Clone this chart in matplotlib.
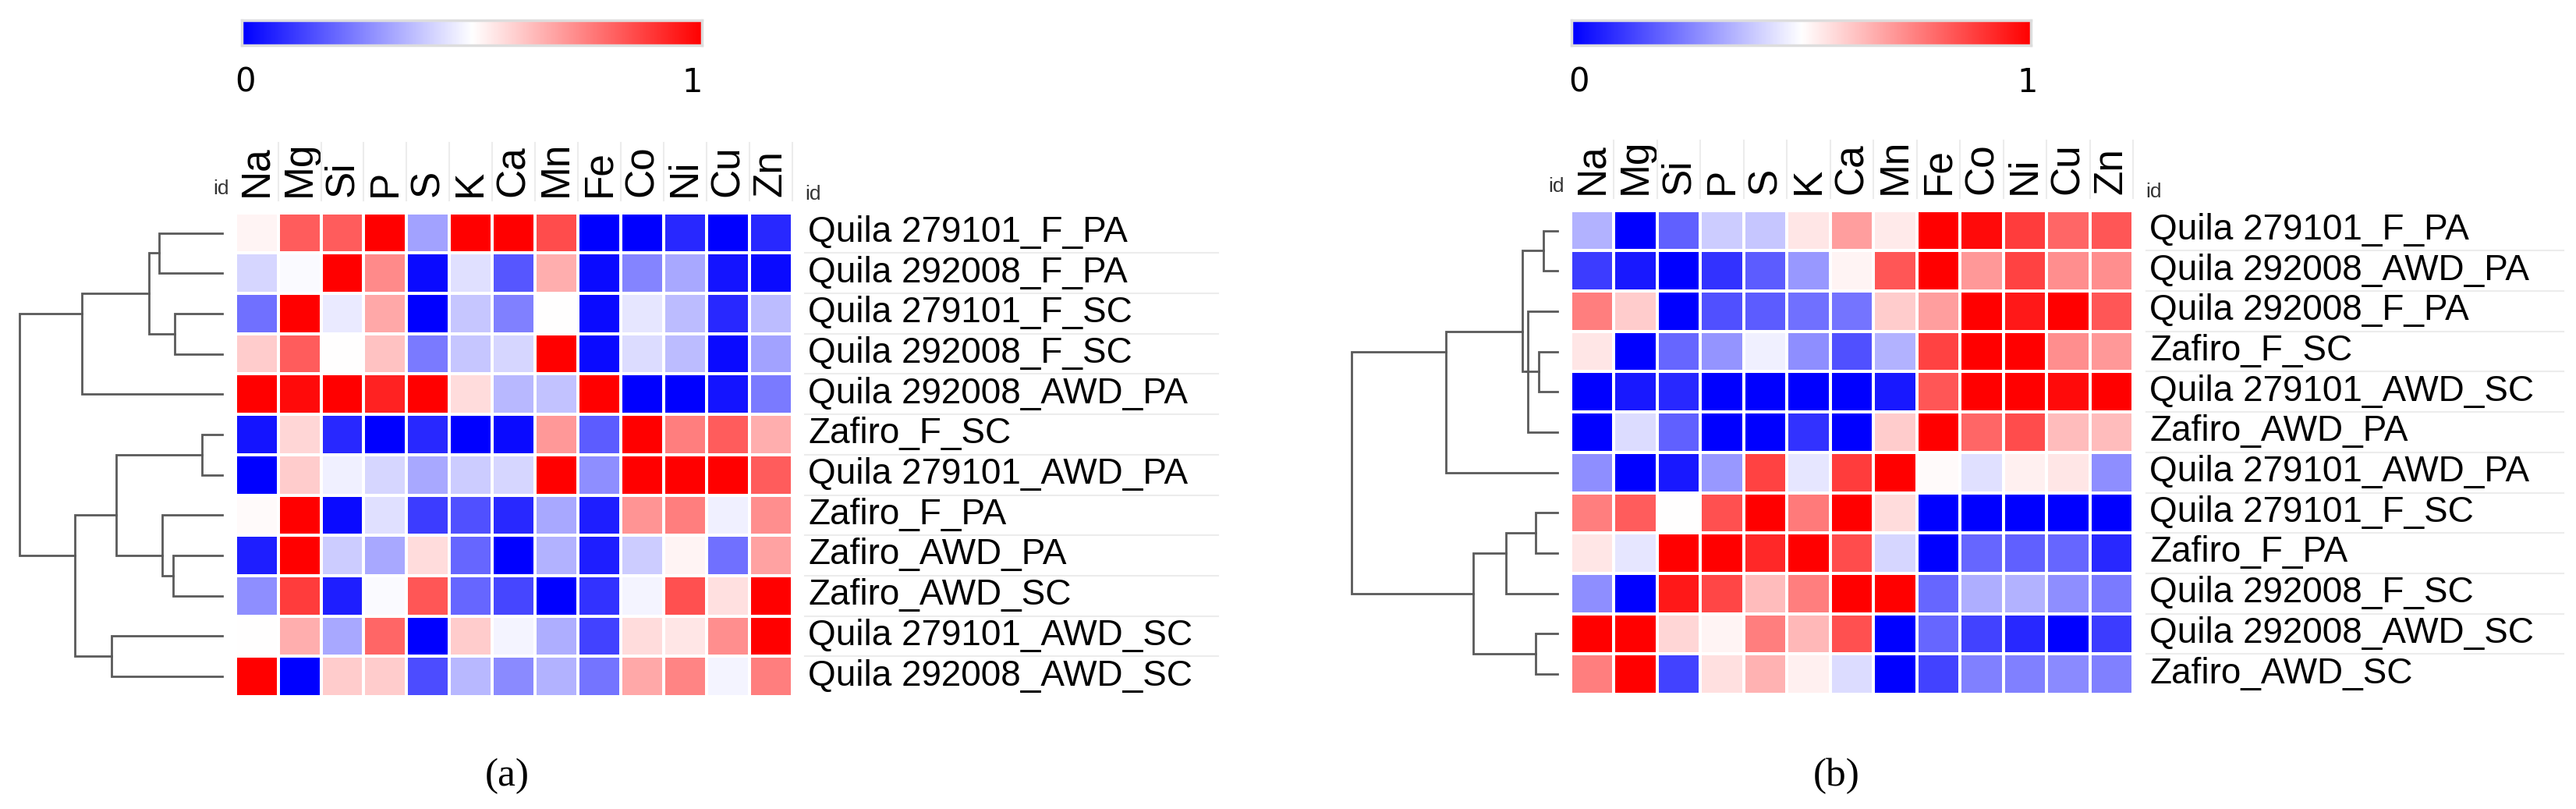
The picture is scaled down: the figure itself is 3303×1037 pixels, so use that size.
import numpy as np
import matplotlib
matplotlib.use("Agg")
import matplotlib.pyplot as plt

# ---------------- data ----------------
elements = ["Na", "Mg", "Si", "P", "S", "K", "Ca", "Mn", "Fe", "Co", "Ni", "Cu", "Zn"]

rows_a = ["Quila 279101_F_PA", "Quila 292008_F_PA", "Quila 279101_F_SC",
          "Quila 292008_F_SC", "Quila 292008_AWD_PA", "Zafiro_F_SC",
          "Quila 279101_AWD_PA", "Zafiro_F_PA", "Zafiro_AWD_PA",
          "Zafiro_AWD_SC", "Quila 279101_AWD_SC", "Quila 292008_AWD_SC"]

vals_a = [
    [0.52, 0.82, 0.82, 1.00, 0.32, 1.00, 1.00, 0.85, 0.00, 0.00, 0.08, 0.00, 0.08],
    [0.42, 0.49, 1.00, 0.73, 0.02, 0.44, 0.17, 0.66, 0.02, 0.26, 0.33, 0.04, 0.02],
    [0.22, 1.00, 0.46, 0.67, 0.00, 0.39, 0.25, 0.50, 0.02, 0.45, 0.37, 0.08, 0.37],
    [0.60, 0.82, 0.50, 0.62, 0.24, 0.39, 0.42, 1.00, 0.02, 0.43, 0.37, 0.02, 0.32],
    [1.00, 0.98, 1.00, 0.93, 1.00, 0.57, 0.36, 0.38, 1.00, 0.00, 0.00, 0.04, 0.24],
    [0.04, 0.58, 0.08, 0.00, 0.08, 0.00, 0.02, 0.70, 0.18, 1.00, 0.75, 0.82, 0.66],
    [0.00, 0.60, 0.47, 0.42, 0.33, 0.40, 0.42, 1.00, 0.28, 1.00, 1.00, 1.00, 0.82],
    [0.51, 1.00, 0.02, 0.44, 0.12, 0.16, 0.08, 0.33, 0.06, 0.71, 0.75, 0.47, 0.72],
    [0.06, 1.00, 0.40, 0.33, 0.57, 0.20, 0.00, 0.35, 0.06, 0.40, 0.52, 0.22, 0.68],
    [0.28, 0.88, 0.06, 0.49, 0.83, 0.20, 0.14, 0.00, 0.10, 0.48, 0.84, 0.56, 1.00],
    [0.50, 0.66, 0.33, 0.80, 0.00, 0.60, 0.48, 0.34, 0.13, 0.57, 0.55, 0.72, 1.00],
    [1.00, 0.00, 0.60, 0.60, 0.15, 0.36, 0.27, 0.35, 0.23, 0.67, 0.74, 0.48, 0.75],
]

rows_b = ["Quila 279101_F_PA", "Quila 292008_AWD_PA", "Quila 292008_F_PA",
          "Zafiro_F_SC", "Quila 279101_AWD_SC", "Zafiro_AWD_PA",
          "Quila 279101_AWD_PA", "Quila 279101_F_SC", "Zafiro_F_PA",
          "Quila 292008_F_SC", "Quila 292008_AWD_SC", "Zafiro_AWD_SC"]

vals_b = [
    [0.35, 0.00, 0.19, 0.40, 0.39, 0.55, 0.69, 0.54, 1.00, 0.98, 0.88, 0.80, 0.83],
    [0.12, 0.05, 0.00, 0.10, 0.18, 0.30, 0.52, 0.83, 1.00, 0.70, 0.87, 0.72, 0.72],
    [0.75, 0.60, 0.00, 0.16, 0.18, 0.22, 0.23, 0.60, 0.69, 1.00, 0.95, 1.00, 0.83],
    [0.55, 0.00, 0.20, 0.29, 0.47, 0.28, 0.16, 0.35, 0.87, 1.00, 1.00, 0.72, 0.70],
    [0.00, 0.05, 0.08, 0.00, 0.00, 0.00, 0.00, 0.05, 0.83, 1.00, 1.00, 0.98, 1.00],
    [0.00, 0.43, 0.19, 0.00, 0.00, 0.10, 0.00, 0.60, 1.00, 0.80, 0.85, 0.63, 0.63],
    [0.28, 0.00, 0.05, 0.30, 0.87, 0.45, 0.88, 1.00, 0.51, 0.44, 0.53, 0.55, 0.28],
    [0.75, 0.82, 0.50, 0.84, 1.00, 0.76, 1.00, 0.57, 0.00, 0.00, 0.00, 0.00, 0.00],
    [0.55, 0.45, 1.00, 1.00, 0.92, 1.00, 0.85, 0.42, 0.00, 0.20, 0.19, 0.20, 0.08],
    [0.28, 0.00, 0.95, 0.86, 0.63, 0.75, 1.00, 1.00, 0.20, 0.34, 0.35, 0.28, 0.24],
    [1.00, 1.00, 0.58, 0.52, 0.75, 0.64, 0.84, 0.00, 0.20, 0.13, 0.08, 0.00, 0.12],
    [0.75, 1.00, 0.13, 0.56, 0.65, 0.53, 0.43, 0.00, 0.13, 0.25, 0.25, 0.27, 0.25],
]

# dendrogram merges: (child, child, height); leaves 0..11 in display order, new nodes 12..
link_a = [(0, 1, 0.311), (2, 3, 0.234), (12, 13, 0.359), (14, 4, 0.691),
          (5, 6, 0.098), (8, 9, 0.243), (7, 17, 0.297), (16, 18, 0.523),
          (10, 11, 0.545), (19, 20, 0.726), (15, 21, 1.0)]
link_b = [(0, 1, 0.068), (3, 4, 0.089), (2, 5, 0.142), (14, 13, 0.155),
          (12, 15, 0.171), (16, 6, 0.541), (7, 8, 0.106), (18, 9, 0.249),
          (10, 11, 0.106), (19, 20, 0.408), (17, 21, 1.0)]

cbar_ticks = ["0", "1"]
captions = ["(a)", "(b)"]

# ---------------- layout ----------------
W, H = 3303, 1037
fig = plt.figure(figsize=(W / 100, H / 100), dpi=100)


def rect(x0, y0, x1, y1):
    return [x0 / W, 1 - y1 / H, (x1 - x0) / W, (y1 - y0) / H]


def draw_heat(box, rows, vals):
    ax = fig.add_axes(rect(*box))
    data = np.array(vals)
    nr, nc = data.shape
    ax.pcolormesh(np.arange(nc + 1), np.arange(nr + 1), data, cmap="bwr",
                  vmin=0, vmax=1, edgecolors="white", linewidth=1.6)
    ax.set_xlim(0, nc)
    ax.set_ylim(nr, 0)
    for s in ax.spines.values():
        s.set_visible(False)
    ax.set_xticks(np.arange(nc) + 0.5)
    ax.set_xticklabels(elements, rotation=90, fontsize=37,
                       family=["Liberation Sans Narrow", "Liberation Sans"])
    ax.tick_params(top=True, labeltop=True, bottom=False, labelbottom=False,
                   left=False, labelleft=False, length=0, pad=15)
    ax.set_yticks([])
    for j in range(1, nc + 1):
        ax.plot([j, j], [-0.3, -1.73], color="#ececec", lw=1.5, clip_on=False)
    for i in range(1, nr):
        ax.plot([13.3, 22.95], [i, i], color="#ececec", lw=1.5, clip_on=False)
    for i, r in enumerate(rows):
        ax.text(13.38, i + 0.72, r, fontsize=33, family="Liberation Sans",
                va="baseline", ha="left", color="black")
    ax.text(-0.14, -0.46, "id", fontsize=19, family="Liberation Sans",
            ha="right", va="baseline", color="#333333")
    ax.text(13.3, -0.32, "id", fontsize=19, family="Liberation Sans",
            ha="left", va="baseline", color="#333333")


def draw_dendro(box, links, n):
    ax = fig.add_axes(rect(*box))
    pos = {i: (i + 0.5, 0.0, [i]) for i in range(n)}
    for k, (a, b, h) in enumerate(links):
        ya, hA, la = pos[a]
        yb, hB, lb = pos[b]
        ax.plot([hA, h, h, hB], [ya, ya, yb, yb], color="#5a5a5a", lw=2.0,
                solid_joinstyle="miter", clip_on=False)
        leaves = la + lb
        pos[n + k] = (np.mean([l + 0.5 for l in leaves]), h, leaves)
    ax.set_xlim(1.0, 0.0)
    ax.set_ylim(n, 0)
    ax.axis("off")


def draw_cbar(box, xl0, xl1, ylab):
    ax = fig.add_axes(rect(*box))
    ax.imshow(np.linspace(0, 1, 256)[None, :], aspect="auto", cmap="bwr",
              vmin=0, vmax=1, extent=[0, 1, 0, 1])
    ax.set_xticks([])
    ax.set_yticks([])
    for s in ax.spines.values():
        s.set_color("#dddddd")
        s.set_linewidth(2.5)
    for x, t in zip([xl0, xl1], cbar_ticks):
        fig.text(x / W, 1 - ylab / H, t, fontsize=30, family="DejaVu Sans",
                 ha="center", va="center", color="black")


# panel (a)
draw_cbar((310, 26, 900, 58), 315, 888, 106)
draw_dendro((24.5, 272.7, 285, 893), link_a, len(rows_a))
draw_heat((301.7, 272.7, 1015.5, 893), rows_a, vals_a)
fig.text(650 / W, 1 - 1007 / H, captions[0], fontsize=37, family="Liberation Serif",
         ha="center", va="baseline")

# panel (b)
draw_cbar((2015, 26, 2604, 58), 2024, 2600, 106)
draw_dendro((1733.3, 269.7, 1996.7, 890), link_b, len(rows_b))
draw_heat((2014, 269.7, 2735, 890), rows_b, vals_b)
fig.text(2355 / W, 1 - 1007 / H, captions[1], fontsize=37, family="Liberation Serif",
         ha="center", va="baseline")

fig.savefig("out.png", dpi=100)
